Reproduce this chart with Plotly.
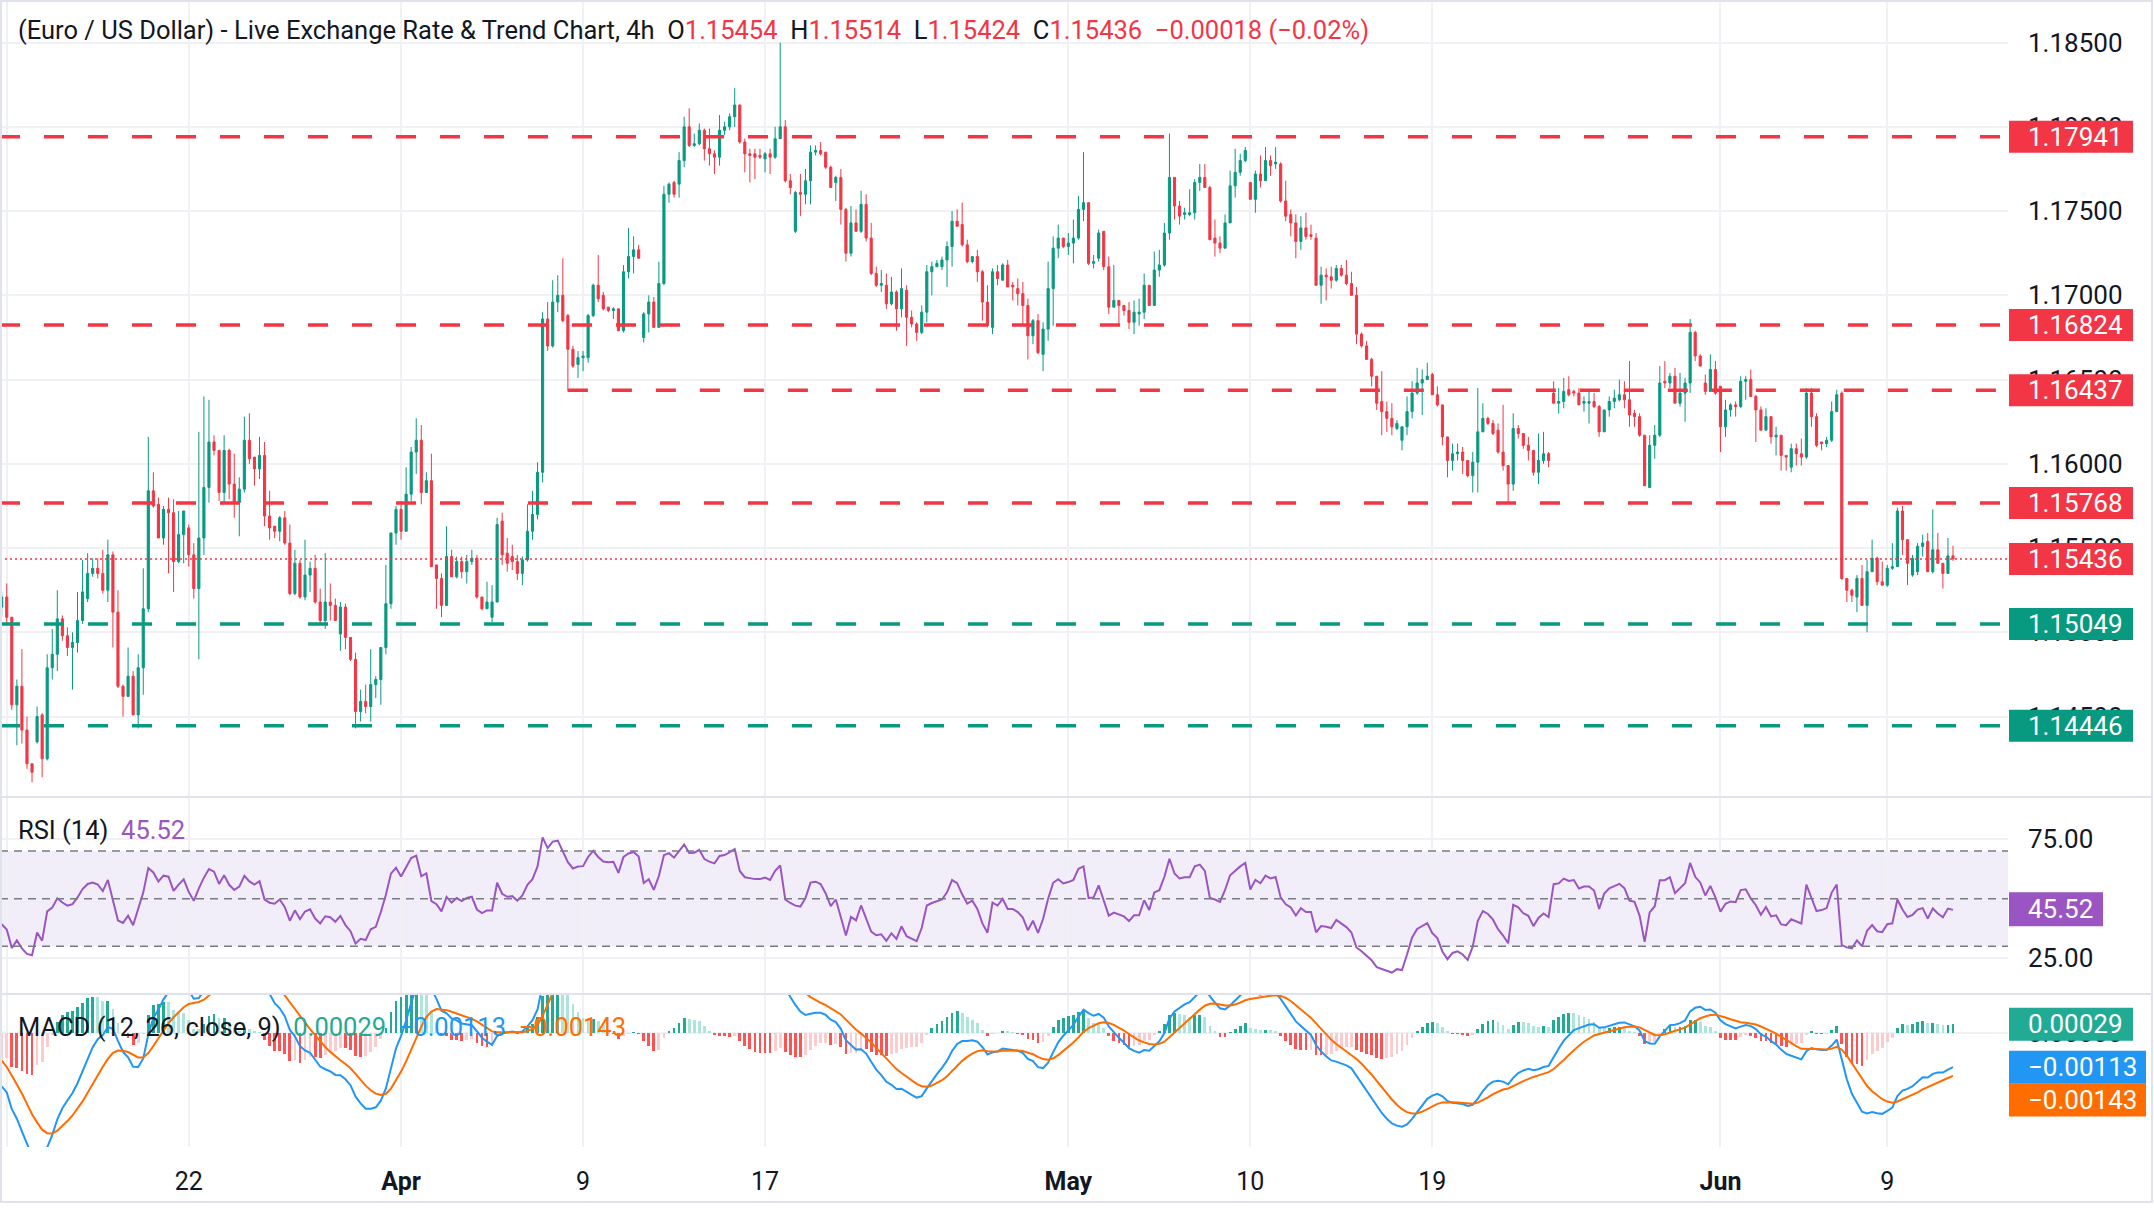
import plotly.graph_objects as go

# ---------------- DATA (EUR/USD 4h) ----------------
opens = [
1.1515,1.1521,1.1509,1.1457,1.1468,1.1442,1.1422,1.1435,1.1451,1.1425,
1.1479,1.1487,1.1508,1.1498,1.1491,1.1494,1.1507,1.1520,1.1535,1.1538,
1.1535,1.1525,1.1546,1.1512,1.1468,1.1462,1.1474,1.1451,1.1479,1.1514,
1.1584,1.1576,1.1556,1.1573,1.1571,1.1542,1.1558,1.1562,1.1546,1.1526,
1.1556,1.1586,1.1613,1.1608,1.1583,1.1608,1.1588,1.1577,1.1585,1.1614,
1.1604,1.1597,1.1605,1.1569,1.1563,1.1560,1.1568,1.1553,1.1523,1.1541,
1.1521,1.1534,1.1538,1.1518,1.1507,1.1518,1.1516,1.1499,1.1515,1.1497,
1.1484,1.1453,1.1459,1.1456,1.1469,1.1472,1.1491,1.1517,1.1559,1.1573,
1.1560,1.1582,1.1607,1.1614,1.1583,1.1590,1.1540,1.1532,1.1516,1.1545,
1.1533,1.1542,1.1536,1.1542,1.1544,1.1521,1.1514,1.1509,1.1518,1.1566,
1.1547,1.1545,1.1542,1.1535,1.1543,1.1560,1.1570,1.1595,1.1686,1.1670,
1.1696,1.1700,1.1688,1.1668,1.1659,1.1663,1.1663,1.1688,1.1706,1.1700,
1.1693,1.1691,1.1692,1.1679,1.1714,1.1723,1.1727,1.1675,1.1689,1.1696,
1.1681,1.1707,1.1760,1.1767,1.1766,1.1780,1.1800,1.1789,1.1790,1.1798,
1.1787,1.1784,1.1782,1.1798,1.1800,1.1806,1.1813,1.1791,1.1784,1.1784,
1.1783,1.1781,1.1784,1.1782,1.1793,1.1800,1.1768,1.1738,1.1761,1.1760,
1.1768,1.1785,1.1786,1.1785,1.1776,1.1767,1.1770,1.1751,1.1725,1.1743,
1.1738,1.1754,1.1734,1.1713,1.1706,1.1706,1.1695,1.1702,1.1692,1.1703,
1.1687,1.1683,1.1678,1.1690,1.1714,1.1717,1.1717,1.1721,1.1729,1.1744,
1.1742,1.1730,1.1720,1.1723,1.1714,1.1696,1.1681,1.1714,1.1709,1.1718,
1.1706,1.1704,1.1701,1.1694,1.1676,1.1685,1.1665,1.1680,1.1704,1.1728,
1.1734,1.1729,1.1731,1.1734,1.1751,1.1755,1.1719,1.1722,1.1738,1.1717,
1.1693,1.1697,1.1694,1.1691,1.1684,1.1689,1.1690,1.1706,1.1694,1.1715,
1.1718,1.1737,1.1770,1.1753,1.1748,1.1748,1.1749,1.1767,1.1770,1.1764,
1.1734,1.1731,1.1728,1.1743,1.1765,1.1773,1.1780,1.1767,1.1757,1.1772,
1.1768,1.1780,1.1778,1.1778,1.1756,1.1748,1.1743,1.1732,1.1740,1.1736,
1.1734,1.1706,1.1712,1.1711,1.1709,1.1716,1.1712,1.1707,1.1700,1.1677,
1.1670,1.1662,1.1652,1.1637,1.1631,1.1627,1.1621,1.1614,1.1622,1.1631,
1.1642,1.1648,1.1650,1.1653,1.1641,1.1635,1.1616,1.1602,1.1606,1.1607,
1.1602,1.1593,1.1601,1.1619,1.1627,1.1624,1.1620,1.1607,1.1599,1.1588,
1.1621,1.1618,1.1611,1.1608,1.1595,1.1602,1.1606,1.1642,1.1636,1.1637,
1.1644,1.1643,1.1642,1.1636,1.1636,1.1637,1.1634,1.1619,1.1632,1.1637,
1.1638,1.1641,1.1638,1.1630,1.1628,1.1617,1.1586,1.1611,1.1617,1.1649,
1.1648,1.1652,1.1636,1.1642,1.1648,1.1678,1.1664,1.1648,1.1643,1.1656,
1.1646,1.1622,1.1632,1.1635,1.1634,1.1649,1.1650,1.1640,1.1632,1.1620,
1.1628,1.1616,1.1617,1.1605,1.1598,1.1609,1.1606,1.1604,1.1642,1.1628,
1.1613,1.1612,1.1614,1.1631,1.1642,1.1532,1.1525,1.1521,1.1532,1.1516,
1.1536,1.1544,1.1530,1.1528,1.1538,1.1539,1.1572,1.1555,1.1534,1.1536,
1.1551,1.1554,1.1536,1.1549,1.1541,1.1535,1.15454]

highs = [
1.1524,1.1529,1.1509,1.1472,1.1490,1.1450,1.1422,1.1456,1.1452,1.1487,
1.1502,1.1525,1.1510,1.1503,1.1500,1.1524,1.1543,1.1547,1.1544,1.1544,
1.1549,1.1555,1.1548,1.1525,1.1469,1.1491,1.1477,1.1487,1.1538,1.1616,
1.1595,1.1580,1.1575,1.1580,1.1579,1.1572,1.1572,1.1564,1.1553,1.1619,
1.1640,1.1638,1.1617,1.1608,1.1617,1.1609,1.1606,1.1592,1.1628,1.1630,
1.1604,1.1616,1.1613,1.1584,1.1563,1.1569,1.1572,1.1564,1.1549,1.1543,
1.1555,1.1542,1.1546,1.1526,1.1547,1.1529,1.1520,1.1518,1.1517,1.1497,
1.1488,1.1466,1.1469,1.1490,1.1474,1.1491,1.1540,1.1559,1.1575,1.1578,
1.1598,1.1610,1.1627,1.1623,1.1595,1.1606,1.1540,1.1535,1.1563,1.1549,
1.1545,1.1545,1.1546,1.1549,1.1546,1.1521,1.1530,1.1528,1.1568,1.1571,
1.1556,1.1552,1.1546,1.1545,1.1576,1.1584,1.1601,1.1690,1.1696,1.1709,
1.1712,1.1722,1.1689,1.1670,1.1667,1.1667,1.1689,1.1707,1.1724,1.1702,
1.1693,1.1693,1.1692,1.1718,1.1740,1.1735,1.1730,1.1690,1.1700,1.1699,
1.1720,1.1765,1.1767,1.1768,1.1785,1.1806,1.1811,1.1796,1.1802,1.1799,
1.1799,1.1786,1.1807,1.1803,1.1808,1.1823,1.1813,1.1793,1.1787,1.1787,
1.1787,1.1785,1.1787,1.1800,1.1850,1.1804,1.1772,1.1762,1.1772,1.1775,
1.1789,1.1789,1.1791,1.1785,1.1777,1.1771,1.1775,1.1752,1.1753,1.1751,
1.1762,1.1760,1.1743,1.1717,1.1715,1.1713,1.1711,1.1703,1.1716,1.1706,
1.1691,1.1684,1.1694,1.1718,1.1720,1.1721,1.1723,1.1732,1.1750,1.1751,
1.1755,1.1733,1.1723,1.1727,1.1715,1.1706,1.1716,1.1718,1.1719,1.1721,
1.1708,1.1710,1.1708,1.1698,1.1686,1.1689,1.1684,1.1720,1.1735,1.1742,
1.1734,1.1737,1.1745,1.1759,1.1785,1.1755,1.1724,1.1739,1.1738,1.1723,
1.1718,1.1697,1.1694,1.1696,1.1697,1.1698,1.1713,1.1706,1.1726,1.1727,
1.1743,1.1796,1.1770,1.1756,1.1752,1.1763,1.1769,1.1778,1.1778,1.1765,
1.1745,1.1735,1.1748,1.1774,1.1787,1.1784,1.1788,1.1767,1.1774,1.1783,
1.1788,1.1783,1.1788,1.1779,1.1768,1.1751,1.1748,1.1747,1.1749,1.1742,
1.1737,1.1717,1.1716,1.1717,1.1718,1.1718,1.1721,1.1714,1.1705,1.1678,
1.1673,1.1663,1.1652,1.1655,1.1637,1.1636,1.1626,1.1622,1.1640,1.1649,
1.1657,1.1656,1.1660,1.1654,1.1646,1.1635,1.1616,1.1612,1.1612,1.1610,
1.1602,1.1607,1.1645,1.1636,1.1628,1.1626,1.1624,1.1635,1.1599,1.1630,
1.1623,1.1618,1.1616,1.1608,1.1618,1.1619,1.1607,1.1649,1.1645,1.1651,
1.1652,1.1644,1.1645,1.1640,1.1643,1.1642,1.1635,1.1632,1.1640,1.1644,
1.1650,1.1649,1.1661,1.1632,1.1630,1.1617,1.1617,1.1623,1.1658,1.1661,
1.1654,1.1657,1.1654,1.1651,1.1686,1.1679,1.1665,1.1653,1.1665,1.1661,
1.1646,1.1638,1.1636,1.1637,1.1652,1.1652,1.1656,1.1641,1.1634,1.1633,
1.1628,1.1622,1.1617,1.1605,1.1612,1.1612,1.1615,1.1645,1.1645,1.1630,
1.1613,1.1616,1.1637,1.1644,1.1643,1.1532,1.1526,1.1534,1.1540,1.1543,
1.1555,1.1545,1.1542,1.1540,1.1553,1.1574,1.1575,1.1555,1.1546,1.1553,
1.1558,1.1559,1.1573,1.1559,1.1541,1.1556,1.15514]

lows = [
1.1510,1.1505,1.1454,1.1433,1.1434,1.1419,1.1411,1.1434,1.1414,1.1424,
1.1472,1.1477,1.1495,1.1486,1.1466,1.1488,1.1505,1.1518,1.1533,1.1532,
1.1523,1.1518,1.1491,1.1467,1.1450,1.1462,1.1451,1.1443,1.1463,1.1512,
1.1574,1.1556,1.1552,1.1535,1.1524,1.1541,1.1541,1.1539,1.1520,1.1484,
1.1546,1.1577,1.1605,1.1578,1.1576,1.1579,1.1568,1.1557,1.1583,1.1600,
1.1587,1.1591,1.1563,1.1555,1.1556,1.1554,1.1552,1.1522,1.1522,1.1520,
1.1519,1.1524,1.1517,1.1505,1.1502,1.1507,1.1507,1.1489,1.1490,1.1483,
1.1443,1.1447,1.1452,1.1447,1.1461,1.1457,1.1487,1.1514,1.1552,1.1555,
1.1560,1.1578,1.1594,1.1576,1.1583,1.1539,1.1514,1.1509,1.1516,1.1533,
1.1532,1.1532,1.1529,1.1540,1.1520,1.1513,1.1514,1.1506,1.1518,1.1540,
1.1536,1.1537,1.1531,1.1528,1.1542,1.1555,1.1567,1.1589,1.1667,1.1669,
1.1690,1.1684,1.1643,1.1657,1.1651,1.1655,1.1660,1.1687,1.1696,1.1691,
1.1690,1.1686,1.1679,1.1678,1.1710,1.1713,1.1722,1.1672,1.1678,1.1681,
1.1681,1.1706,1.1755,1.1758,1.1758,1.1776,1.1788,1.1788,1.1789,1.1780,
1.1777,1.1772,1.1777,1.1795,1.1798,1.1800,1.1790,1.1773,1.1767,1.1769,
1.1781,1.1773,1.1772,1.1781,1.1793,1.1767,1.1760,1.1737,1.1747,1.1754,
1.1754,1.1783,1.1783,1.1775,1.1764,1.1756,1.1742,1.1720,1.1723,1.1738,
1.1737,1.1732,1.1712,1.1705,1.1702,1.1692,1.1694,1.1679,1.1687,1.1670,
1.1681,1.1673,1.1677,1.1684,1.1700,1.1717,1.1715,1.1705,1.1717,1.1741,
1.1729,1.1719,1.1719,1.1708,1.1685,1.1681,1.1677,1.1706,1.1709,1.1705,
1.1697,1.1694,1.1683,1.1662,1.1671,1.1665,1.1655,1.1673,1.1682,1.1722,
1.1728,1.1724,1.1719,1.1733,1.1744,1.1718,1.1716,1.1720,1.1715,1.1689,
1.1693,1.1683,1.1688,1.1680,1.1677,1.1682,1.1686,1.1694,1.1694,1.1711,
1.1717,1.1733,1.1745,1.1742,1.1745,1.1747,1.1745,1.1762,1.1764,1.1733,
1.1723,1.1725,1.1728,1.1743,1.1758,1.1771,1.1779,1.1757,1.1749,1.1764,
1.1768,1.1771,1.1775,1.1755,1.1744,1.1735,1.1722,1.1727,1.1733,1.1733,
1.1706,1.1695,1.1697,1.1704,1.1708,1.1711,1.1706,1.1700,1.1671,1.1669,
1.1662,1.1646,1.1632,1.1617,1.1619,1.1617,1.1620,1.1608,1.1617,1.1627,
1.1641,1.1629,1.1650,1.1641,1.1634,1.1611,1.1592,1.1596,1.1602,1.1594,
1.1592,1.1583,1.1583,1.1619,1.1623,1.1617,1.1606,1.1596,1.1577,1.1584,
1.1615,1.1609,1.1602,1.1593,1.1588,1.1600,1.1598,1.1636,1.1630,1.1633,
1.1640,1.1640,1.1635,1.1631,1.1624,1.1633,1.1616,1.1619,1.1628,1.1633,
1.1637,1.1633,1.1622,1.1622,1.1616,1.1587,1.1586,1.1603,1.1616,1.1645,
1.1645,1.1636,1.1634,1.1625,1.1642,1.1661,1.1658,1.1641,1.1643,1.1641,
1.1607,1.1616,1.1628,1.1628,1.1633,1.1638,1.1640,1.1613,1.1620,1.1620,
1.1612,1.1605,1.1596,1.1596,1.1595,1.1599,1.1599,1.1603,1.1622,1.1610,
1.1608,1.1610,1.1613,1.1631,1.1531,1.1518,1.1518,1.1512,1.1516,1.1500,
1.1536,1.1528,1.1528,1.1527,1.1537,1.1539,1.1546,1.1528,1.1533,1.1534,
1.1545,1.1536,1.1535,1.1541,1.1526,1.1535,1.15424]

closes = [
1.1521,1.1509,1.1457,1.1468,1.1442,1.1422,1.1417,1.1450,1.1425,1.1479,
1.1487,1.1508,1.1498,1.1491,1.1494,1.1507,1.1524,1.1535,1.1538,1.1535,
1.1525,1.1546,1.1512,1.1468,1.1462,1.1474,1.1451,1.1479,1.1514,1.1584,
1.1575,1.1556,1.1573,1.1571,1.1542,1.1558,1.1572,1.1546,1.1526,1.1556,
1.1586,1.1613,1.1608,1.1583,1.1608,1.1588,1.1577,1.1585,1.1614,1.1603,
1.1597,1.1605,1.1569,1.1562,1.1560,1.1568,1.1553,1.1523,1.1541,1.1521,
1.1534,1.1538,1.1518,1.1507,1.1518,1.1516,1.1507,1.1515,1.1497,1.1484,
1.1453,1.1459,1.1456,1.1469,1.1472,1.1491,1.1517,1.1559,1.1573,1.1560,
1.1582,1.1607,1.1614,1.1583,1.1590,1.1539,1.1532,1.1516,1.1545,1.1533,
1.1542,1.1536,1.1542,1.1544,1.1521,1.1514,1.1518,1.1518,1.1564,1.1546,
1.1541,1.1542,1.1535,1.1543,1.1560,1.1570,1.1595,1.1686,1.1670,1.1696,
1.1700,1.1685,1.1668,1.1658,1.1663,1.1664,1.1688,1.1706,1.1698,1.1692,
1.1691,1.1692,1.1679,1.1714,1.1723,1.1727,1.1722,1.1689,1.1696,1.1681,
1.1707,1.1760,1.1766,1.1760,1.1780,1.1800,1.1789,1.1790,1.1798,1.1787,
1.1784,1.1782,1.1798,1.1800,1.1806,1.1813,1.1791,1.1784,1.1783,1.1782,
1.1782,1.1784,1.1782,1.1793,1.1800,1.1768,1.1764,1.1761,1.1760,1.1768,
1.1785,1.1786,1.1784,1.1776,1.1764,1.1770,1.1751,1.1725,1.1743,1.1738,
1.1754,1.1734,1.1713,1.1706,1.1707,1.1695,1.1702,1.1692,1.1704,1.1687,
1.1683,1.1678,1.1690,1.1714,1.1717,1.1719,1.1721,1.1729,1.1744,1.1741,
1.1730,1.1720,1.1723,1.1714,1.1696,1.1682,1.1714,1.1710,1.1718,1.1705,
1.1705,1.1701,1.1694,1.1676,1.1685,1.1666,1.1680,1.1704,1.1728,1.1734,
1.1729,1.1731,1.1734,1.1751,1.1755,1.1719,1.1720,1.1737,1.1717,1.1693,
1.1697,1.1694,1.1691,1.1684,1.1690,1.1690,1.1706,1.1694,1.1715,1.1718,
1.1737,1.1770,1.1753,1.1747,1.1749,1.1749,1.1767,1.1770,1.1764,1.1733,
1.1731,1.1728,1.1743,1.1765,1.1773,1.1780,1.1786,1.1757,1.1772,1.1768,
1.1780,1.1777,1.1779,1.1756,1.1747,1.1743,1.1732,1.1740,1.1735,1.1735,
1.1706,1.1712,1.1711,1.1709,1.1716,1.1712,1.1707,1.1700,1.1677,1.1670,
1.1662,1.1652,1.1636,1.1631,1.1627,1.1622,1.1624,1.1622,1.1631,1.1642,
1.1648,1.1650,1.1652,1.1641,1.1635,1.1616,1.1602,1.1606,1.1607,1.1602,
1.1593,1.1601,1.1619,1.1627,1.1624,1.1618,1.1607,1.1599,1.1588,1.1621,
1.1618,1.1611,1.1608,1.1595,1.1602,1.1606,1.1602,1.1636,1.1637,1.1643,
1.1641,1.1642,1.1635,1.1637,1.1637,1.1634,1.1619,1.1632,1.1637,1.1639,
1.1641,1.1638,1.1629,1.1628,1.1617,1.1587,1.1611,1.1617,1.1648,1.1648,
1.1652,1.1636,1.1642,1.1648,1.1678,1.1664,1.1658,1.1643,1.1656,1.1642,
1.1622,1.1632,1.1635,1.1634,1.1649,1.1650,1.1640,1.1632,1.1620,1.1628,
1.1616,1.1617,1.1605,1.1604,1.1609,1.1606,1.1604,1.1642,1.1628,1.1611,
1.1612,1.1614,1.1631,1.1641,1.1532,1.1525,1.1522,1.1532,1.1516,1.1536,
1.1544,1.1530,1.1528,1.1538,1.1539,1.1572,1.1555,1.1541,1.1544,1.1551,
1.1553,1.1536,1.1549,1.1541,1.1535,1.15454,1.15436]

# date labels and the bar where each date begins
x_tick_labels = ["13", "22", "<b>Apr</b>", "9", "17", "<b>May</b>", "10", "19", "<b>Jun</b>", "9"]
x_tick_bars = [1, 37, 79, 115, 151, 211, 247, 283, 340, 373]

# price-scale ticks
price_ticks = [1.145, 1.150, 1.155, 1.160, 1.165, 1.170, 1.175, 1.180, 1.185]
rsi_ticks = [25, 75]
rsi_levels = [70, 50, 30]

# horizontal support / resistance drawings
resistance_levels = [1.17941, 1.16824, 1.16437, 1.15768]
support_levels = [1.15049, 1.14446]
ray_levels = {1.16437: 112}  # level drawn as a ray starting at this bar

# indicator read-outs shown in the legends / scales
rsi_value = 45.52
macd_values = [0.00029, -0.00113, -0.00143]  # histogram, MACD, signal

rsi_seed = [0.00060, 0.00100]          # average gain, average loss
macd_seed = [1.1556, 1.1572, -0.0007]  # EMA12, EMA26, signal

# ---------------- INDICATORS ----------------
n = len(closes)
idx = list(range(n))

ag, al = rsi_seed
prev = opens[0]
rsi = []
for v in closes:
    ch = v - prev
    ag = (ag * 13 + max(ch, 0.0)) / 14
    al = (al * 13 + max(-ch, 0.0)) / 14
    rsi.append(100 - 100 / (1 + ag / al) if al > 0 else 100.0)
    prev = v

e12, e26, sig = macd_seed
macd, signal, hist = [], [], []
for v in closes:
    e12 += (v - e12) * 2 / 13
    e26 += (v - e26) * 2 / 27
    m = e12 - e26
    sig += (m - sig) * 2 / 10
    macd.append(m)
    signal.append(sig)
    hist.append(m - sig)

hist_colors = []
for k, h in enumerate(hist):
    p = hist[k - 1] if k > 0 else h
    if h >= 0:
        hist_colors.append("#22AB94" if h >= p else "#ACE5DC")
    else:
        hist_colors.append("#FF5252" if h < p else "#FCCBCD")

# ---------------- STYLE / LAYOUT ----------------
FONT = "Roboto"
TXT = "#131722"
UP = "#089981"
DN = "#F23645"
GRID = "#F0F1F4"
BORDER = "#E0E3EB"
PURPLE = "#9B55C2"
BLUE = "#2196F3"
ORANGE = "#FF6D00"
TEAL = "#22AB94"
LEG_SIZE = 25.5
AX_SIZE = 26

W, H = 2154, 1224
PLOT_R = 2008
MAIN_BOT, RSI_BOT, MACD_BOT = 797, 994, 1147


def py(y):
    return 1 - y / H


def px(x):
    return x / W


# x scale: first bar centre at 1.7px, last at 1953px
sp = (1953 - 1.7) / (n - 1)
x_lo = -1.7 / sp
x_hi = x_lo + PLOT_R / sp

# y scales (pixel calibration of the reference)
ppu = 16850.0
p_top = 1.185 + 42.6 / ppu
p_bot = 1.185 - (MAIN_BOT - 42.6) / ppu
rsi_ppu = 2.3825
rsi_top = 70 + (851 - 797) / rsi_ppu
rsi_bot = 30 - (RSI_BOT - 946.3) / rsi_ppu
macd_zero_px, macd_ppu = 1033.0, 30300.0
macd_top = (macd_zero_px - RSI_BOT) / macd_ppu
macd_bot = -(MACD_BOT - macd_zero_px) / macd_ppu

fig = go.Figure()

fig.add_trace(go.Candlestick(
    x=idx, open=opens, high=highs, low=lows, close=closes,
    increasing=dict(line=dict(color=UP, width=1), fillcolor=UP),
    decreasing=dict(line=dict(color=DN, width=1), fillcolor=DN),
    whiskerwidth=0, xaxis="x", yaxis="y", hoverinfo="skip", showlegend=False))

fig.add_trace(go.Scatter(x=idx, y=rsi, mode="lines", line=dict(color=PURPLE, width=2),
                         xaxis="x2", yaxis="y2", hoverinfo="skip", showlegend=False))

fig.add_trace(go.Bar(x=idx, y=hist, marker=dict(color=hist_colors, line=dict(width=0)),
                     width=0.55, xaxis="x3", yaxis="y3", hoverinfo="skip", showlegend=False))
fig.add_trace(go.Scatter(x=idx, y=macd, mode="lines", line=dict(color=BLUE, width=2),
                         xaxis="x3", yaxis="y3", hoverinfo="skip", showlegend=False))
fig.add_trace(go.Scatter(x=idx, y=signal, mode="lines", line=dict(color=ORANGE, width=2),
                         xaxis="x3", yaxis="y3", hoverinfo="skip", showlegend=False))

xcommon = dict(range=[x_lo, x_hi], domain=[0, px(PLOT_R)], tickmode="array",
               tickvals=x_tick_bars, ticktext=x_tick_labels, showgrid=True,
               gridcolor=GRID, gridwidth=2, zeroline=False, showline=False,
               ticks="", fixedrange=True)
ycommon = dict(side="right", showgrid=True, gridcolor=GRID, gridwidth=2, zeroline=False,
               showline=False, ticks="", fixedrange=True, tickmode="array",
               tickfont=dict(family=FONT, size=AX_SIZE, color=TXT), ticklabelstandoff=19)

shapes = []
annotations = []

# support / resistance lines
for lvl in resistance_levels + support_levels:
    col = DN if lvl in resistance_levels else UP
    x0 = ray_levels.get(lvl, x_lo)
    shapes.append(dict(type="line", xref="x", yref="y", x0=x0, x1=x_hi, y0=lvl, y1=lvl,
                       line=dict(color=col, width=3.5, dash="20px,24px"), layer="above"))
# last-price dotted line
shapes.append(dict(type="line", xref="x", yref="y", x0=x_lo, x1=x_hi,
                   y0=closes[-1], y1=closes[-1],
                   line=dict(color=DN, width=1.5, dash="2px,3px"), layer="above"))

# RSI band and guide lines
shapes.append(dict(type="rect", xref="x2", yref="y2", x0=x_lo, x1=x_hi, y0=30, y1=70,
                   fillcolor="rgba(126,87,194,0.10)", line=dict(width=0), layer="below"))
for lv in rsi_levels:
    shapes.append(dict(type="line", xref="x2", yref="y2", x0=x_lo, x1=x_hi, y0=lv, y1=lv,
                       line=dict(color="#787B86", width=1.5, dash="8px,6px"), layer="above"))

# pane separators and frame
for yy in (MAIN_BOT, RSI_BOT):
    shapes.append(dict(type="line", xref="paper", yref="paper", x0=0, x1=px(2152),
                       y0=py(yy), y1=py(yy), line=dict(color=BORDER, width=2)))
shapes.append(dict(type="rect", xref="paper", yref="paper", x0=px(1), x1=px(2152),
                   y0=py(1202), y1=py(1), line=dict(color=BORDER, width=2)))


def scale_box(yref, val, text, color, right_px, half_h, shift=0, fsize=AX_SIZE):
    shapes.append(dict(type="rect", xref="paper", x0=px(2009), x1=px(right_px),
                       yref=yref, ysizemode="pixel", yanchor=val,
                       y0=shift - half_h, y1=shift + half_h,
                       fillcolor=color, line=dict(width=0), layer="above"))
    annotations.append(dict(xref="paper", x=px(2026), xanchor="left", yref=yref, y=val,
                            yanchor="middle", yshift=shift, text=text, showarrow=False,
                            font=dict(family=FONT, size=fsize, color="white")))


for lvl in resistance_levels:
    scale_box("y", lvl, f"{lvl:.5f}", DN, 2133, 16)
for lvl in support_levels:
    scale_box("y", lvl, f"{lvl:.5f}", UP, 2133, 16)
scale_box("y", closes[-1], f"{closes[-1]:.5f}", DN, 2133, 16)
scale_box("y2", rsi_value, f"{rsi_value:.2f}", PURPLE, 2103, 17)


def fmt(v):
    return ("\u2212" if v < 0 else "") + f"{abs(v):.5f}"


scale_box("y3", macd_values[0], fmt(macd_values[0]), TEAL, 2133, 16.5)
scale_box("y3", macd_values[1], fmt(macd_values[1]), BLUE, 2146, 16.5)
scale_box("y3", macd_values[2], fmt(macd_values[2]), ORANGE, 2146, 16.5,
          shift=-(1100 - (macd_zero_px - macd_values[2] * macd_ppu)))

# legends
chg = closes[-1] - closes[-2]
pct = chg / closes[-2] * 100
sp2 = "\u00a0\u00a0"


def red(s):
    return f"<span style='color:{DN}'>{s}</span>"


pct_txt = ("\u2212" if pct < 0 else "") + f"{abs(pct):.2f}%"
title = ("(Euro / US Dollar) - Live Exchange Rate &amp; Trend Chart, 4h" + sp2 +
         "O" + red(f"{opens[-1]:.5f}") + sp2 + "H" + red(f"{highs[-1]:.5f}") + sp2 +
         "L" + red(f"{lows[-1]:.5f}") + sp2 + "C" + red(f"{closes[-1]:.5f}") + sp2 +
         red(f"{fmt(chg)} ({pct_txt})"))
annotations.append(dict(xref="paper", yref="paper", x=px(16), y=py(30), xanchor="left",
                        yanchor="middle", text=title, showarrow=False,
                        font=dict(family=FONT, size=LEG_SIZE, color=TXT)))
annotations.append(dict(xref="paper", yref="paper", x=px(16), y=py(830), xanchor="left",
                        yanchor="middle", showarrow=False,
                        text="RSI (14)" + sp2 + f"<span style='color:{PURPLE}'>{rsi_value:.2f}</span>",
                        font=dict(family=FONT, size=LEG_SIZE, color=TXT)))
annotations.append(dict(xref="paper", yref="paper", x=px(16), y=py(1027), xanchor="left",
                        yanchor="middle", showarrow=False,
                        text="MACD (12, 26, close, 9)" + sp2 +
                             f"<span style='color:{TEAL}'>{fmt(macd_values[0])}</span>" + sp2 +
                             f"<span style='color:{BLUE}'>{fmt(macd_values[1])}</span>" + sp2 +
                             f"<span style='color:{ORANGE}'>{fmt(macd_values[2])}</span>",
                        font=dict(family=FONT, size=LEG_SIZE, color=TXT)))

fig.update_layout(
    width=W, height=H, margin=dict(l=0, r=0, t=0, b=0),
    paper_bgcolor="white", plot_bgcolor="white", showlegend=False,
    hovermode=False, dragmode=False, bargap=0, boxgap=0.4,
    xaxis=dict(xcommon, anchor="y", showticklabels=False, rangeslider=dict(visible=False)),
    xaxis2=dict(xcommon, anchor="y2", showticklabels=False),
    xaxis3=dict(xcommon, anchor="y3", showticklabels=True,
                tickfont=dict(family=FONT, size=25, color=TXT), ticklabelstandoff=17),
    yaxis=dict(ycommon, anchor="x", domain=[py(MAIN_BOT), 1], range=[p_bot, p_top],
               tickvals=price_ticks, ticktext=[f"{v:.5f}" for v in price_ticks]),
    yaxis2=dict(ycommon, anchor="x2", domain=[py(RSI_BOT), py(MAIN_BOT)],
                range=[rsi_bot, rsi_top], tickvals=rsi_ticks,
                ticktext=[f"{v:.2f}" for v in rsi_ticks]),
    yaxis3=dict(ycommon, anchor="x3", domain=[py(MACD_BOT), py(RSI_BOT)],
                range=[macd_bot, macd_top], tickvals=[0], ticktext=["0.00000"]),
    shapes=shapes, annotations=annotations,
)

fig.write_html("out.html")
